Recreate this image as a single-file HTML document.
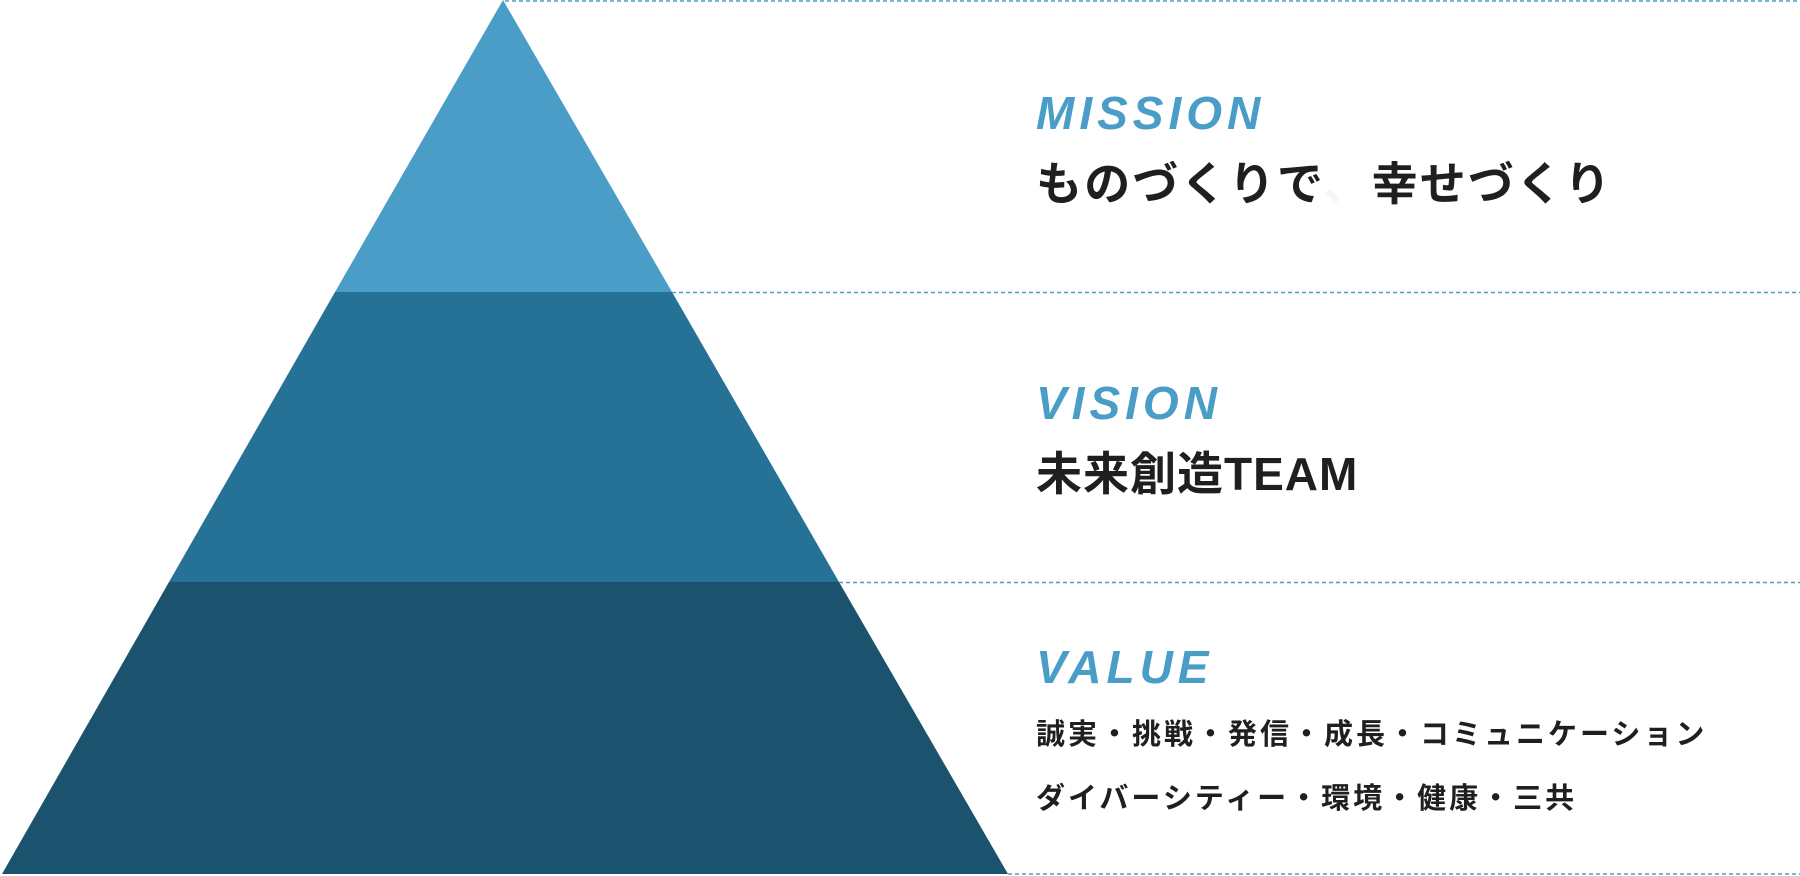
<!DOCTYPE html>
<html><head><meta charset="utf-8"><style>
html,body{margin:0;padding:0;background:#fff;width:1800px;height:876px;overflow:hidden;position:relative}
.t{position:absolute;left:1036px;white-space:nowrap;font-family:"Liberation Sans","Noto Sans CJK JP",sans-serif;font-weight:bold;color:#1f1f1f;line-height:1}
.h{color:#4a9dc7;font-style:italic;font-size:46px;letter-spacing:5px}
.m{font-size:46px;letter-spacing:2.2px}
.v{font-size:29px;letter-spacing:3px}
</style></head><body>
<svg width="1800" height="876" style="position:absolute;left:0;top:0">
<polygon points="503,0 672,292 335,292" fill="#4a9dc7"/>
<polygon points="335,292 672,292 839,582 169,582" fill="#267196"/>
<polygon points="169,582 839,582 1008,874 2,874" fill="#1b536e"/>
<g stroke="#4a9dc7" stroke-width="1.5" stroke-dasharray="4,3">
<line x1="505" y1="1" x2="1800" y2="1"/>
<line x1="672" y1="292.5" x2="1800" y2="292.5"/>
<line x1="839" y1="582.5" x2="1800" y2="582.5"/>
<line x1="1008" y1="874" x2="1800" y2="874"/>
</g>
</svg>
<div class="t h" style="top:90px">MISSION</div>
<div class="t m" style="top:161px">ものづくりで<span style="color:#f6f6f6">、</span>幸せづくり</div>
<div class="t h" style="top:380px">VISION</div>
<div class="t m" style="top:451px;letter-spacing:1px">未来創造TEAM</div>
<div class="t h" style="top:644px">VALUE</div>
<div class="t v" style="top:721px">誠実・挑戦・発信・成長・コミュニケーション</div>
<div class="t v" style="top:785px">ダイバーシティー・環境・健康・三共</div>
</body></html>
